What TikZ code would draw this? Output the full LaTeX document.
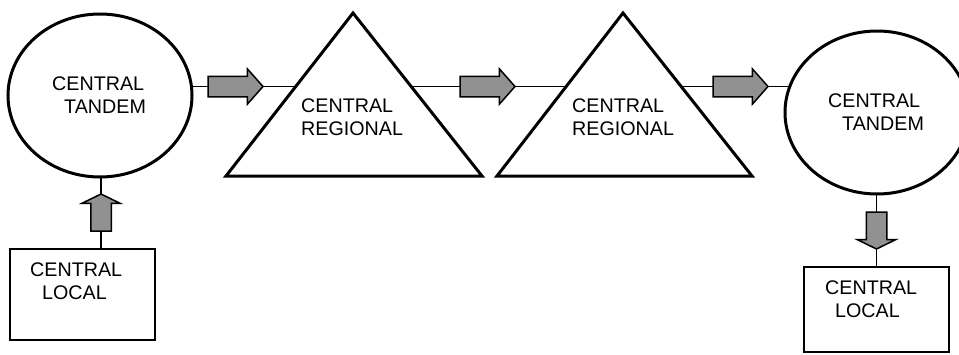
\documentclass[tikz,border=0pt]{standalone}
\usepackage{fontspec}
\setmainfont{Liberation Sans}
\usetikzlibrary{shapes.geometric,shapes.arrows,backgrounds}
\definecolor{arrowgray}{RGB}{145,145,145}
\tikzset{
  x=1pt, y=-1pt,
  tandem/.style={draw, line width=3pt, ellipse, fill=white, inner sep=0pt,
    minimum width=184pt, minimum height=163pt},
  localbox/.style={draw, line width=1.8pt, rectangle, fill=white, inner sep=0pt},
  regional/.style={draw, line width=3pt, fill=white, line join=miter},
  lbl/.style={anchor=west, align=left, inner sep=0pt, font=\fontsize{19.7pt}{23pt}\selectfont},
  harrow/.style={single arrow, draw, line width=1.5pt, fill=arrowgray, inner sep=9.5pt,
    outer sep=0pt, minimum height=55pt, single arrow head extend=7.5pt,
    single arrow tip angle=97, anchor=tip},
  varrow/.style={single arrow, draw, line width=1.5pt, fill=arrowgray, inner sep=9.5pt,
    outer sep=0pt, minimum height=37pt, single arrow head extend=9pt,
    single arrow tip angle=128, anchor=tip},
  link/.style={draw, line width=1.3pt}
}
\begin{document}
\begin{tikzpicture}
\useasboundingbox (0,0) rectangle (959,354);
% shapes
\node[tandem] (tandemL) at (100,95.5) {};
\node[tandem] (tandemR) at (877,112.5) {};
\node[localbox, minimum width=145pt, minimum height=91pt] (localL) at (82.5,294.5) {};
\node[localbox, minimum width=145pt, minimum height=85pt] (localR) at (876.5,309.5) {};
\draw[regional] (226,176) coordinate (r1a) -- (353,13) coordinate (r1top) -- (482,176) coordinate (r1b) -- cycle;
\coordinate (reg1) at (354,120);
\draw[regional] (497,176) coordinate (r2a) -- (623,13) coordinate (r2top) -- (752,176) coordinate (r2b) -- cycle;
\coordinate (reg2) at (624,120);
% arrows
\node[harrow] (a1) at (263,86.5) {};
\node[harrow] (a2) at (515,86.5) {};
\node[harrow] (a3) at (768,86.5) {};
\node[varrow, shape border rotate=90] (up) at (101,194) {};
\node[varrow, shape border rotate=270] (down) at (876.5,249) {};
% labels
\node[lbl] (tL) at (52,95) {CENTRAL\\\hspace{12pt}TANDEM};
\node[lbl] (tR) at (828,112.5) {CENTRAL\\\hspace{14pt}TANDEM};
\node[lbl] (g1) at (301,117.5) {CENTRAL\\REGIONAL};
\node[lbl] (g2) at (572,117.5) {CENTRAL\\REGIONAL};
\node[lbl] (lL) at (30,281) {CENTRAL\\\hspace{12pt}LOCAL};
\node[lbl] (lR) at (825,299.5) {CENTRAL\\\hspace{10pt}LOCAL};
% connectors
\begin{scope}[on background layer]
\draw[link] (tandemL.center |- a1.tip) -- (reg1 |- a1.tip);
\draw[link] (reg1 |- a2.tip) -- (reg2 |- a2.tip);
\draw[link] (reg2 |- a3.tip) -- (tandemR.center |- a3.tip);
\draw[link] (up.tip |- localL.center) -- (up.tip |- tandemL.center);
\draw[link] (down.tip |- tandemR.center) -- (down.tip |- localR.center);
\end{scope}
\end{tikzpicture}
\end{document}
